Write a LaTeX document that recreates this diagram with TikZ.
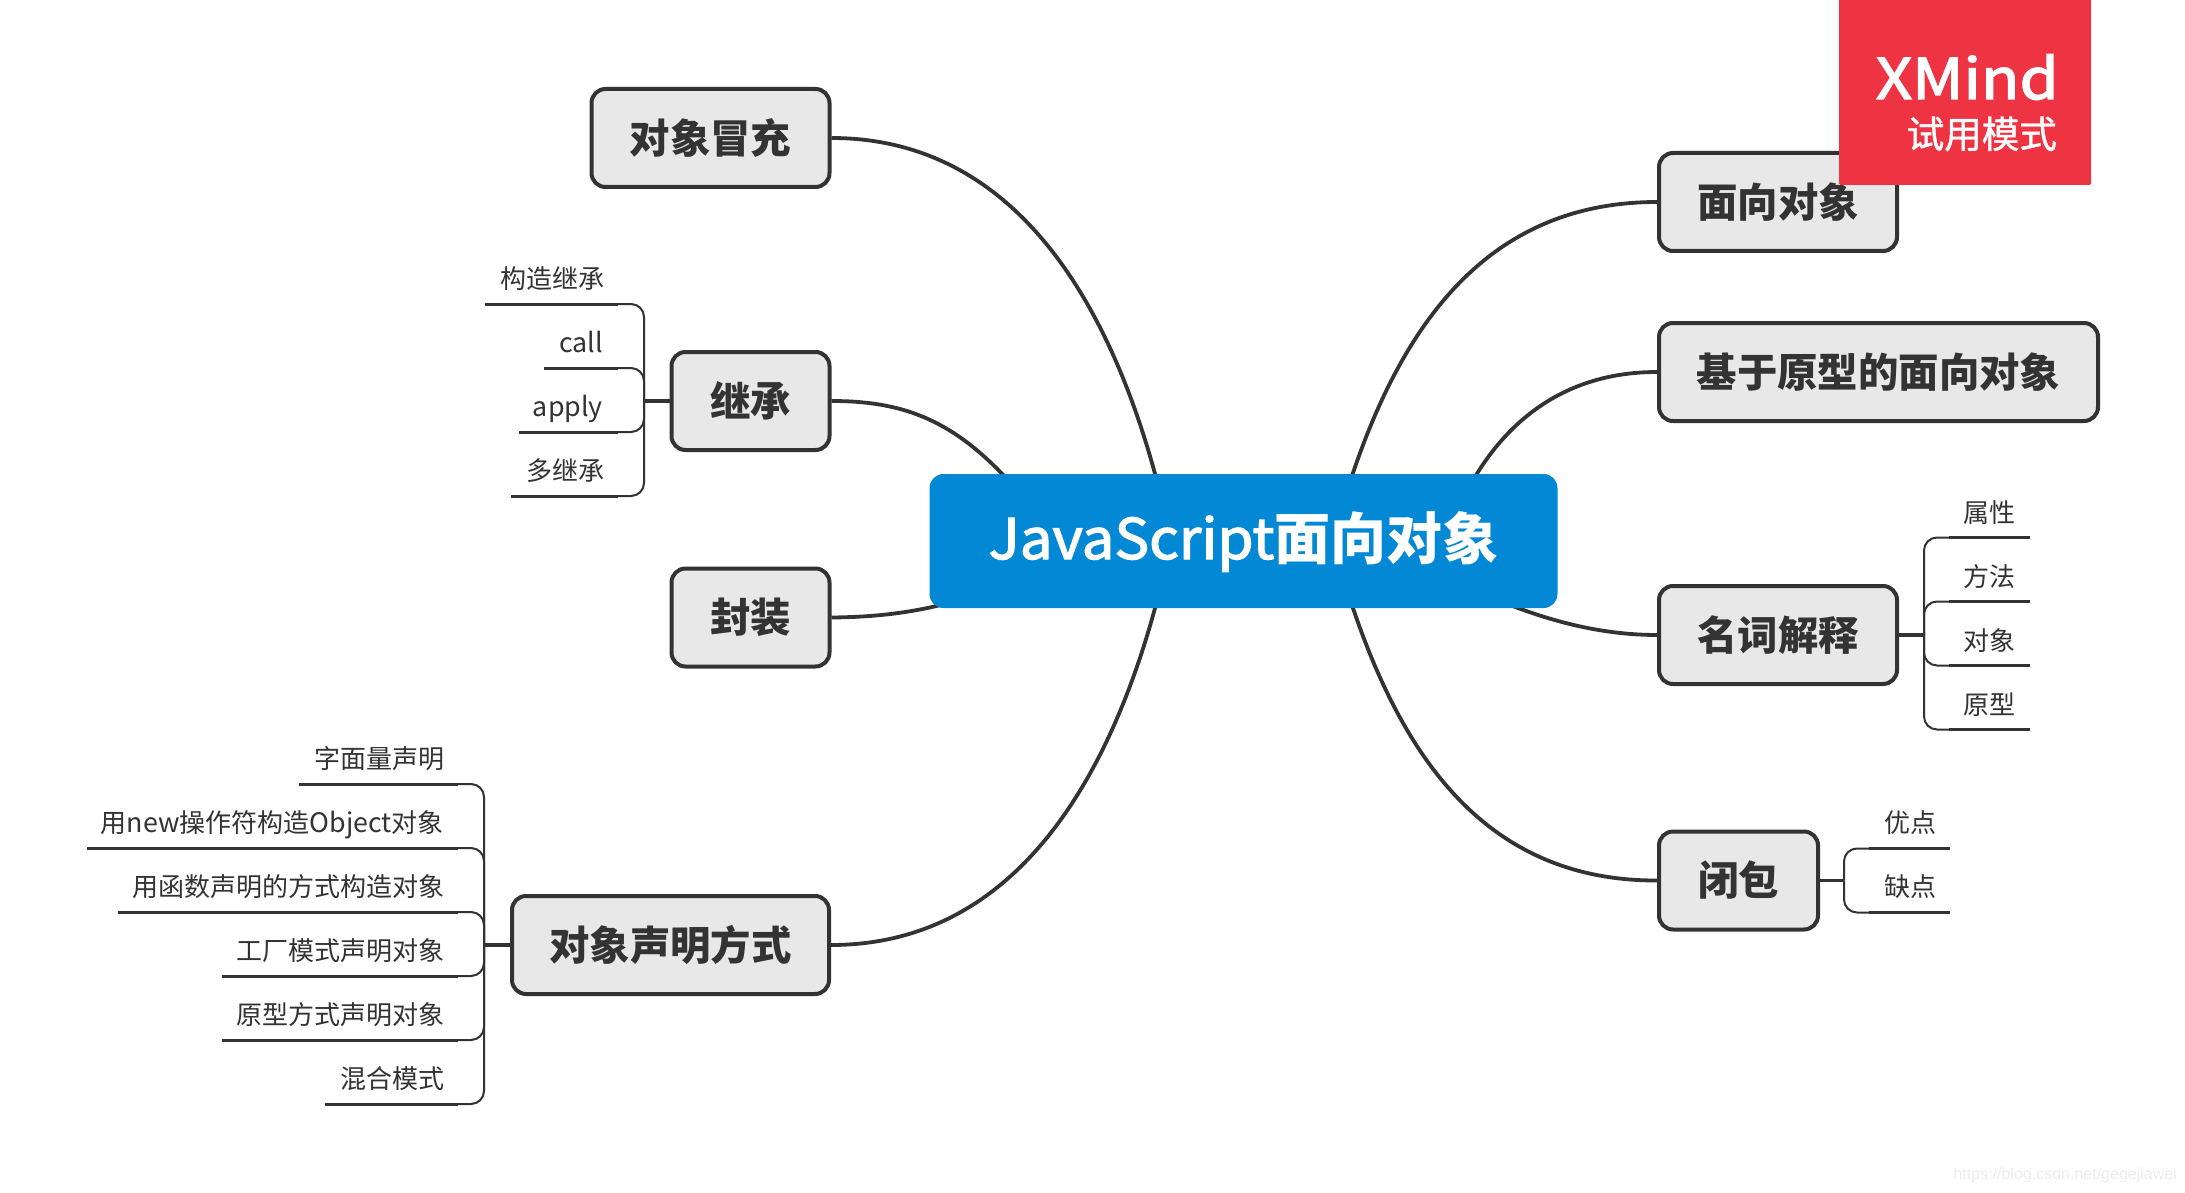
\documentclass[tikz,border=0pt]{standalone}
\usepackage{fontspec}
\usetikzlibrary{backgrounds}
\setmainfont{Noto Sans CJK SC}
\newfontfamily\rootlat{Noto Sans CJK SC}[FakeBold=2.2,FakeStretch=1.04]
\newfontfamily\logofont{Noto Sans CJK SC}[FakeBold=2.6,FakeStretch=1.13]
\newfontfamily\trialfont{Noto Sans CJK SC}[FakeBold=1.2]
\newfontfamily\wmfont{Liberation Sans}
\newcommand{\latleaf}[1]{{\fontsize{26.8}{30}\selectfont #1}}
\definecolor{ink}{HTML}{333333}
\definecolor{topicfill}{HTML}{E8E8E8}
\definecolor{rootblue}{HTML}{0288D4}
\definecolor{trialred}{HTML}{EE3342}
\definecolor{wm}{HTML}{EDEDED}
\tikzset{
  x=1pt,y=-1pt,
  topic/.style={draw=ink,fill=topicfill,line width=4pt,rounded corners=14pt,inner sep=0pt,text=ink,font=\fontsize{40.4}{48}\selectfont\bfseries,align=center},
  root/.style={fill=rootblue,rounded corners=14pt,inner sep=0pt,text=white,font=\fontsize{56}{66}\selectfont,align=center},
  leafl/.style={inner sep=0pt,anchor=base east,text=ink,font=\fontsize{26}{30}\selectfont},
  leafr/.style={inner sep=0pt,anchor=base west,text=ink,font=\fontsize{26}{30}\selectfont},
  branch/.style={draw=ink,line width=3.8pt},
  rule/.style={draw=ink,line width=3pt},
  brace/.style={draw=ink,line width=2pt,rounded corners=13pt},
  stem/.style={draw=ink,line width=3.5pt},
}
\begin{document}
\begin{tikzpicture}
\useasboundingbox (0,0) rectangle (2185,1193);
\begin{pgfonlayer}{background}
\fill[white] (0,0) rectangle (2185,1193);
\end{pgfonlayer}

% root and main topics
\node[root,minimum width=628,minimum height=134] (root) at (1243.5,541) {\raisebox{-18pt}[0pt][0pt]{{\rootlat JavaScript}{\bfseries 面向对象}}};
\coordinate (rTL) at (1158,485);
\coordinate (rBL) at (1158,597);
\coordinate (rTR) at (1349,485);
\coordinate (rBR) at (1349,596);
\coordinate (rLi) at (1006,478);
\coordinate (rLs) at (990,590);
\coordinate (rRi) at (1472,482);
\coordinate (rRs) at (1505,603);

\node[topic,minimum width=238,minimum height=98] (imp) at (710.5,138) {对象冒充};
\node[topic,minimum width=158,minimum height=98] (inh) at (750.5,401) {继承};
\node[topic,minimum width=317,minimum height=98] (dec) at (670.5,945) {对象声明方式};
\node[topic,minimum width=158,minimum height=98] (enc) at (750.5,617.5) {封装};
\node[topic,minimum width=238,minimum height=98] (oo) at (1778,202) {面向对象};
\node[topic,minimum width=439,minimum height=98] (proto) at (1878.5,372) {基于原型的面向对象};
\node[topic,minimum width=238,minimum height=98] (term) at (1778,635) {名词解释};
\node[topic,minimum width=159,minimum height=98] (clo) at (1738.5,880.5) {闭包};

% main connectors, behind the root
\begin{pgfonlayer}{background}
\draw[branch] (imp.east) .. controls (1010,138) and (1108,294) .. (rTL);
\draw[branch] (dec.east) .. controls (1010,945) and (1108,788) .. (rBL);
\draw[branch] (oo.west) .. controls (1490,202) and (1402,321) .. (rTR);
\draw[branch] (clo.west) .. controls (1488,881) and (1402,760) .. (rBR);
\draw[branch] (term.west) .. controls (1610,635) and (1560,625) .. (rRs);
\draw[branch] (proto.west) .. controls (1565,372) and (1507,421) .. (rRi);
\draw[branch] (inh.east) .. controls (900,401) and (950,418) .. (rLi);
\draw[branch] (enc.east) .. controls (880,617) and (930,612) .. (rLs);
\end{pgfonlayer}

% leaves of inheritance
\coordinate (jinh) at (644,401);
\node[leafl] (i1) at (604.5,288) {构造继承};
\node[leafl] (i2) at (603,352) {\latleaf{call}};
\node[leafl] (i3) at (603,416) {\latleaf{apply}};
\node[leafl] (i4) at (604.5,480) {多继承};
\foreach \n/\l/\y in {i1/485/304,i2/544/368,i3/519/432,i4/511/496}{
  \coordinate (\n a) at (\l,\y);
  \coordinate (\n b) at (618,\y);
  \draw[rule] (\n a) -- (\n b);
  \draw[brace] (\n b) -| (jinh);
}
\draw[stem] (inh.west) -- (jinh);

% leaves of declaration
\coordinate (jdec) at (484,945);
\node[leafl] (d1) at (444.5,768) {字面量声明};
\node[leafl] (d2) at (444,832) {用\latleaf{new}操作符构造\latleaf{Object}对象};
\node[leafl] (d3) at (444.5,896) {用函数声明的方式构造对象};
\node[leafl] (d4) at (444.5,960) {工厂模式声明对象};
\node[leafl] (d5) at (444.5,1024) {原型方式声明对象};
\node[leafl] (d6) at (444.5,1088) {混合模式};
\foreach \n/\l/\y in {d1/299/784,d2/87/848,d3/118/912,d4/222/976,d5/222/1040,d6/325/1104}{
  \coordinate (\n a) at (\l,\y);
  \coordinate (\n b) at (458,\y);
  \draw[rule] (\n a) -- (\n b);
  \draw[brace] (\n b) -| (jdec);
}
\draw[stem] (dec.west) -- (jdec);

% leaves of terminology
\coordinate (jterm) at (1924,635);
\node[leafr] (t1) at (1963.5,522) {属性};
\node[leafr] (t2) at (1963.5,586) {方法};
\node[leafr] (t3) at (1963.5,650) {对象};
\node[leafr] (t4) at (1963.5,714) {原型};
\foreach \n/\y in {t1/537.5,t2/601.5,t3/665.5,t4/729.5}{
  \coordinate (\n a) at (2030,\y);
  \coordinate (\n b) at (1949,\y);
  \draw[rule] (\n a) -- (\n b);
  \draw[brace] (\n b) -| (jterm);
}
\draw[stem] (term.east) -- (jterm);

% leaves of closure
\coordinate (jclo) at (1844,880.5);
\node[leafr] (c1) at (1884,832) {优点};
\node[leafr] (c2) at (1884,896) {缺点};
\foreach \n/\y in {c1/848.5,c2/912.5}{
  \coordinate (\n a) at (1950,\y);
  \coordinate (\n b) at (1869,\y);
  \draw[rule] (\n a) -- (\n b);
  \draw[brace] (\n b) -| (jclo);
}
\draw[stem] (clo.east) -- (jclo);

% trial badge
\fill[trialred,rounded corners=1.5pt] (1839,-3) rectangle (2091,185);
\node[inner sep=0pt,anchor=base east,text=white,font=\logofont\fontsize{56}{60}\selectfont] (xm) at (2059,99) {XMind};
\node[inner sep=0pt,anchor=base east,text=white,font=\trialfont\fontsize{37.5}{40}\selectfont] (tr) at (2057,148) {试用模式};

% watermark
\node[inner sep=0pt,anchor=base east,text=wm,font=\wmfont\fontsize{16}{18}\selectfont] (wmk) at (2177,1179) {https://blog.csdn.net/gegejiawei};
\end{tikzpicture}
\end{document}
